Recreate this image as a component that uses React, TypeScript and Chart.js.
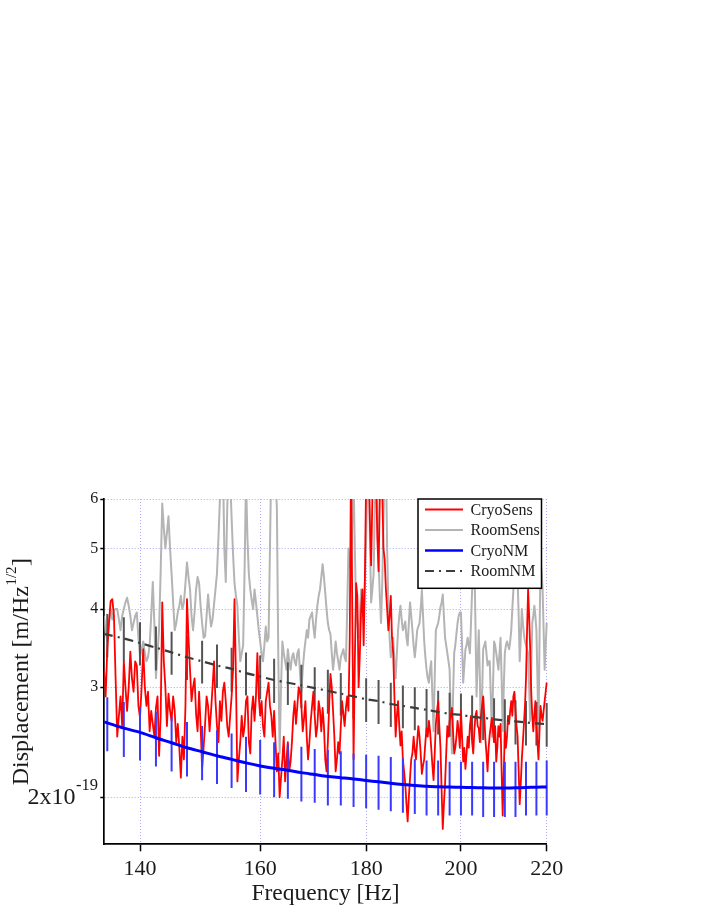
import React, { useEffect, useRef } from "react";
import { Chart, registerables } from "chart.js";

Chart.register(...registerables);

const FONT = "'Liberation Serif', 'Times New Roman', serif";
const TEXT_COLOR = "#1a1a1a";

// Values in units of 1e-19 m/Hz^1/2, sampled every 0.25 Hz from 134.5 Hz
const FREQ_START = 134.5;
const FREQ_STEP = 0.25;

const CRYO_SENS = [
  3.2, 2.9, 3.45, 3.8, 4.12, 4.15, 3.9, 3.1, 2.5, 2.7, 2.9, 2.6, 3.3, 3.0, 2.75, 3.0, 3.42, 3.1, 2.95, 3.3,
  3.25, 2.8, 2.68, 3.0, 3.45, 3.0, 2.8, 2.95, 2.55, 2.75, 2.62, 2.5, 2.78, 2.9, 2.33, 2.7, 4.1, 3.3, 3.0, 2.6,
  2.93, 2.75, 2.65, 2.9, 2.75, 2.45, 2.62, 2.4, 2.15, 2.5, 2.3, 2.8, 4.15, 3.6, 3.2, 2.85, 3.0, 3.1, 2.72, 2.55,
  2.95, 2.6, 2.22, 2.4, 2.62, 2.9, 2.8, 2.55, 2.75, 3.0, 3.3, 2.85, 2.6, 2.45, 2.85, 2.65, 2.95, 3.05, 2.85, 2.6,
  2.5, 2.7, 2.9, 3.2, 4.15, 3.1, 2.12, 2.3, 2.45, 2.7, 2.5, 2.6, 2.85, 2.9, 2.45, 2.35, 2.75, 2.9, 2.65, 2.9,
  3.4, 2.9, 2.7, 2.85, 2.6, 2.5, 2.85, 2.95, 3.05, 2.8, 2.7, 2.5, 2.75, 2.45, 2.2, 2.35, 2.0, 2.15, 2.3, 2.5,
  2.12, 2.3, 2.45, 2.2, 2.28, 2.45, 2.7, 2.85, 2.62, 2.8, 3.0, 2.95, 2.8, 2.55, 2.68, 2.85, 2.5, 2.3, 2.45, 2.65,
  2.8, 2.95, 2.7, 2.5, 2.6, 2.85, 2.75, 2.55, 2.78, 2.6, 2.3, 2.2, 2.45, 2.8, 3.15, 3.0, 2.75, 2.5, 2.2, 2.3,
  2.45, 2.35, 2.6, 2.85, 2.72, 2.6, 2.78, 2.9, 2.75, 3.6, 7.0, 4.0, 2.3, 3.3, 4.4, 4.2, 3.0, 3.4, 4.0, 4.3,
  3.5, 4.5, 6.5, 7.0, 7.0, 5.5, 4.7, 6.0, 7.0, 7.0, 6.5, 5.2, 4.6, 6.0, 7.0, 6.2, 5.0, 4.8, 4.3, 4.0,
  3.7, 3.9, 4.2, 3.6, 3.4, 2.9, 2.5, 2.7, 2.85, 2.6, 2.42, 2.55, 2.3, 2.2, 2.1, 1.95, 1.83, 2.0, 2.15, 2.3,
  2.35, 2.5, 2.38, 2.3, 2.45, 2.6, 2.5, 2.35, 2.18, 2.25, 2.3, 2.45, 2.58, 2.5, 2.65, 2.55, 2.4, 2.25, 2.13, 2.35,
  2.62, 2.75, 2.85, 2.6, 2.4, 2.05, 1.78, 1.95, 2.1, 2.35, 2.6, 2.5, 2.65, 2.7, 2.78, 2.55, 2.35, 2.4, 2.5, 2.65,
  2.55, 2.4, 2.75, 2.5, 2.28, 2.4, 2.22, 2.35, 2.5, 2.4, 2.6, 2.7, 2.45, 2.35, 2.55, 2.7, 2.75, 2.6, 2.58, 2.45,
  2.7, 2.8, 2.9, 2.7, 2.48, 2.35, 2.2, 2.4, 2.52, 2.6, 2.68, 2.55, 2.45, 2.6, 2.28, 2.4, 2.6, 2.5, 2.62, 2.2,
  1.87, 2.2, 2.55, 2.4, 2.5, 2.7, 2.62, 2.75, 2.85, 2.7, 2.9, 2.95, 2.75, 2.6, 2.5, 2.2, 1.95, 2.1, 2.3, 2.45,
  2.62, 2.8, 3.1, 3.7, 4.3, 3.9, 3.45, 2.95, 2.7, 2.55, 2.72, 2.85, 2.6, 2.45, 2.3, 2.55, 2.8, 2.7, 2.65, 2.75,
  2.85, 2.95, 3.05,
];

const ROOM_SENS = [
  3.9, 3.7, 3.55, 3.8, 4.0, 3.85, 3.98, 4.0, 4.0, 3.85, 3.7, 3.9, 4.0, 4.1, 4.17, 4.05, 3.9, 3.7, 3.8, 3.9,
  3.95, 3.6, 3.35, 3.45, 3.55, 3.4, 3.3, 3.35, 3.5, 3.9, 4.42, 3.8, 3.1, 3.4, 3.72, 4.6, 5.9, 5.4, 5.0, 5.3,
  5.63, 5.0, 4.55, 4.1, 3.7, 3.8, 3.95, 4.05, 4.2, 4.0, 4.1, 4.4, 4.75, 4.5, 4.3, 3.9, 3.7, 3.95, 4.3, 4.5,
  4.4, 4.05, 3.8, 3.6, 3.62, 3.9, 4.22, 3.95, 3.75, 3.85, 4.07, 4.3, 4.56, 5.2, 6.0, 7.0, 7.0, 5.0, 4.42, 5.8,
  7.0, 6.5, 5.6, 4.9, 4.4, 4.2, 4.05, 3.6, 3.3, 3.4, 3.5, 4.6, 6.5, 5.2, 4.55, 4.3, 4.13, 4.0, 4.3, 4.1,
  3.9, 3.7, 3.55, 3.4, 3.3, 3.5, 3.75, 3.55, 3.6, 5.0, 7.0, 7.0, 7.0, 6.5, 5.8, 3.4, 2.35, 3.0, 3.55, 3.4,
  3.3, 3.2, 3.45, 3.3, 3.2, 3.35, 3.4, 3.3, 3.25, 3.4, 3.45, 3.15, 2.95, 3.2, 3.4, 3.55, 3.7, 3.6, 3.85, 3.9,
  3.95, 3.75, 3.6, 3.85, 4.05, 4.2, 4.3, 4.5, 4.72, 4.5, 4.25, 4.0, 3.8, 3.7, 3.65, 3.4, 3.2, 3.35, 3.55, 3.4,
  3.3, 3.2, 3.35, 3.4, 3.45, 3.35, 3.3, 4.0, 5.0, 4.7, 4.6, 5.5, 6.5, 5.0, 4.0, 3.8, 3.6, 3.9, 4.3, 4.1,
  3.9, 4.4, 5.2, 6.5, 7.0, 5.2, 4.1, 4.3, 4.55, 5.8, 7.0, 6.0, 4.8, 4.2, 3.8, 4.4, 5.5, 7.0, 7.0, 5.0,
  4.03, 3.6, 3.35, 3.45, 3.6, 3.3, 3.1, 3.4, 3.7, 3.9, 4.05, 3.85, 3.7, 3.75, 3.82, 3.6, 3.5, 3.8, 4.1, 3.9,
  3.7, 3.5, 3.35, 3.5, 3.7, 3.75, 3.8, 4.0, 4.29, 3.9, 3.55, 3.35, 3.2, 3.1, 3.05, 3.2, 3.3, 2.9, 2.55, 3.1,
  3.7, 3.75, 3.8, 3.9, 4.03, 4.1, 4.22, 3.9, 3.6, 3.5, 3.4, 3.3, 3.2, 2.7, 2.35, 2.9, 3.4, 3.5, 3.65, 3.8,
  3.9, 3.95, 3.95, 3.5, 3.05, 3.25, 3.45, 3.5, 3.6, 3.5, 3.4, 3.8, 4.29, 4.6, 4.8, 3.8, 2.9, 3.3, 3.7, 3.1,
  2.45, 2.9, 3.45, 3.5, 3.55, 3.4, 3.25, 3.3, 3.3, 2.9, 2.5, 3.0, 3.55, 3.5, 3.4, 3.3, 3.2, 3.4, 3.6, 3.1,
  2.55, 3.0, 3.4, 3.5, 3.55, 3.5, 3.45, 3.55, 3.7, 4.0, 4.29, 4.6, 4.9, 4.7, 4.5, 3.9, 3.3, 3.6, 4.0, 3.8,
  3.65, 3.55, 3.5, 3.45, 3.4, 3.0, 2.65, 3.2, 3.8, 3.9, 4.05, 3.9, 3.7, 3.1, 2.5, 3.6, 4.8, 4.6, 4.3, 3.7,
  3.2, 3.5, 3.8,
];

const NM_FREQS = [
  134.5, 135, 137.5, 140, 142.5, 145, 147.5, 150, 152.5, 155, 157.5, 160,
  162.5, 165, 167.5, 170, 172.5, 175, 177.5, 180, 182.5, 185, 187.5, 190,
  192.5, 195, 197.5, 200, 202.5, 205, 207.5, 210, 212.5, 215, 217.5, 220,
];

const CRYO_NM = [
  2.64, 2.63, 2.58, 2.54, 2.49, 2.445, 2.4, 2.365, 2.33, 2.3, 2.27, 2.245,
  2.225, 2.21, 2.19, 2.175, 2.16, 2.15, 2.14, 2.128, 2.117, 2.106, 2.096, 2.088,
  2.083, 2.079, 2.077, 2.075, 2.073, 2.071, 2.07, 2.07, 2.071, 2.073, 2.076, 2.078,
];

const ROOM_NM = [
  3.65, 3.64, 3.59, 3.53, 3.47, 3.41, 3.35, 3.3, 3.25, 3.21, 3.16, 3.12,
  3.08, 3.05, 3.02, 2.99, 2.96, 2.93, 2.9, 2.87, 2.85, 2.82, 2.8, 2.78,
  2.76, 2.74, 2.72, 2.71, 2.69, 2.68, 2.665, 2.655, 2.645, 2.635, 2.625, 2.62,
];

const BAR_FREQS = [
  135, 137.5, 140, 142.5, 145, 147.5, 150, 152.5, 155, 157.5, 160, 162.5,
  165, 167.5, 170, 172.5, 175, 177.5, 180, 182.5, 185, 187.5, 190, 192.5,
  195, 197.5, 200, 202.5, 205, 207.5, 210, 212.5, 215, 217.5, 220,
];

const CRYO_NM_LOW = [
  2.37, 2.32, 2.29, 2.24, 2.2, 2.16, 2.13, 2.1, 2.07, 2.04, 2.02, 2.0,
  1.99, 1.97, 1.96, 1.94, 1.94, 1.93, 1.92, 1.91, 1.9, 1.89, 1.88, 1.87,
  1.87, 1.87, 1.87, 1.87, 1.86, 1.86, 1.86, 1.86, 1.87, 1.87, 1.87,
];
const CRYO_NM_HIGH = [
  2.89, 2.84, 2.79, 2.74, 2.69, 2.64, 2.6, 2.56, 2.53, 2.5, 2.47, 2.45,
  2.43, 2.41, 2.39, 2.38, 2.37, 2.35, 2.34, 2.33, 2.32, 2.31, 2.3, 2.29,
  2.29, 2.28, 2.28, 2.28, 2.28, 2.28, 2.28, 2.28, 2.28, 2.28, 2.29,
];
const ROOM_NM_LOW = [
  3.35, 3.3, 3.25, 3.19, 3.14, 3.08, 3.04, 2.99, 2.95, 2.91, 2.87, 2.83,
  2.81, 2.78, 2.75, 2.72, 2.7, 2.67, 2.64, 2.62, 2.59, 2.58, 2.56, 2.54,
  2.52, 2.5, 2.49, 2.47, 2.47, 2.45, 2.44, 2.43, 2.42, 2.42, 2.41,
];
const ROOM_NM_HIGH = [
  3.93, 3.88, 3.81, 3.75, 3.68, 3.62, 3.56, 3.51, 3.47, 3.41, 3.37, 3.33,
  3.29, 3.26, 3.23, 3.2, 3.16, 3.13, 3.1, 3.08, 3.05, 3.02, 3.0, 2.98,
  2.96, 2.94, 2.93, 2.91, 2.89, 2.88, 2.87, 2.86, 2.85, 2.84, 2.83,
];

const X_TICKS = [140, 160, 180, 200, 220];
const Y_TICKS = [2, 3, 4, 5, 6];
const X_MIN = 134.55;
const X_MAX = 220;
const Y_MIN = 1.682;
const Y_MAX = 6;

const SERIES_STYLE = {
  cryoSens: { label: "CryoSens", color: "#ff0000", width: 1.8, dash: [] as number[] },
  roomSens: { label: "RoomSens", color: "#b4b4b4", width: 2, dash: [] as number[] },
  cryoNM: { label: "CryoNM", color: "#0000ff", width: 3, dash: [] as number[] },
  roomNM: { label: "RoomNM", color: "#3c3c3c", width: 2.2, dash: [9, 5, 2, 5] },
};

const SENS_FREQS = CRYO_SENS.map((_, i) => FREQ_START + i * FREQ_STEP);

const toXY = (xs: number[], ys: number[]) => xs.map((x, i) => ({ x, y: ys[i] }));
const toBars = (xs: number[], lo: number[], hi: number[]) =>
  xs.flatMap((x, i) => [
    { x, y: lo[i] },
    { x, y: hi[i] },
    { x, y: null as any },
  ]);

const CLIP = { left: 0, top: 0, right: 2, bottom: 0 };

const overlayPlugin = {
  id: "overlay",
  afterDraw(chart: any) {
    const ctx = chart.ctx as CanvasRenderingContext2D;
    const area = chart.chartArea;
    const ys = chart.scales.y;
    ctx.save();
    ctx.fillStyle = TEXT_COLOR;

    // y tick label 2x10^-19
    const y2 = ys.getPixelForValue(2);
    const rightX = 98;
    ctx.textAlign = "right";
    ctx.textBaseline = "alphabetic";
    ctx.font = `16.5px ${FONT}`;
    const sup = "-19";
    const supW = ctx.measureText(sup).width;
    ctx.fillText(sup, rightX, y2 - 7);
    ctx.font = `24px ${FONT}`;
    ctx.fillText("2x10", rightX - supW - 0.5, y2 + 6.5);

    // x title
    ctx.textAlign = "center";
    ctx.font = `23.5px ${FONT}`;
    ctx.fillText("Frequency [Hz]", (area.left + area.right) / 2, 900);

    // y title (rotated)
    ctx.save();
    ctx.translate(28, (area.top + area.bottom) / 2);
    ctx.rotate(-Math.PI / 2);
    ctx.textAlign = "left";
    const t1 = "Displacement [m/Hz";
    const t2 = "1/2";
    const t3 = "]";
    ctx.font = `24px ${FONT}`;
    const w1 = ctx.measureText(t1).width;
    const w3 = ctx.measureText(t3).width;
    ctx.font = `15px ${FONT}`;
    const w2 = ctx.measureText(t2).width;
    const total = w1 + w2 + w3 + 1;
    const x0 = -total / 2;
    ctx.font = `24px ${FONT}`;
    ctx.fillText(t1, x0, 0);
    ctx.font = `15px ${FONT}`;
    ctx.fillText(t2, x0 + w1 + 0.5, -12);
    ctx.font = `24px ${FONT}`;
    ctx.fillText(t3, x0 + w1 + w2 + 1, 0);
    ctx.restore();

    // legend box
    const lx = 418, ly = 499, lw = 123.5, lh = 89.3;
    ctx.fillStyle = "#ffffff";
    ctx.fillRect(lx, ly, lw, lh);
    ctx.strokeStyle = "#000000";
    ctx.lineWidth = 1.5;
    ctx.strokeRect(lx, ly, lw, lh);
    const rows = [SERIES_STYLE.cryoSens, SERIES_STYLE.roomSens, SERIES_STYLE.cryoNM, SERIES_STYLE.roomNM];
    const rowY = [509.5, 530, 550.5, 571];
    ctx.font = `16px ${FONT}`;
    ctx.textAlign = "left";
    ctx.textBaseline = "middle";
    rows.forEach((r, i) => {
      ctx.save();
      ctx.strokeStyle = r.color;
      ctx.lineWidth = r === SERIES_STYLE.cryoNM ? 2.5 : 2;
      ctx.setLineDash(r.dash);
      ctx.beginPath();
      ctx.moveTo(425, rowY[i]);
      ctx.lineTo(463, rowY[i]);
      ctx.stroke();
      ctx.restore();
      ctx.fillStyle = TEXT_COLOR;
      ctx.fillText(r.label, 470.5, rowY[i] + 1);
    });
    ctx.restore();
  },
};

export default function App() {
  const canvasRef = useRef<HTMLCanvasElement | null>(null);

  useEffect(() => {
    const canvas = canvasRef.current;
    if (!canvas) return;
    const chart = new Chart(canvas, {
      type: "line",
      data: {
        datasets: [
          {
            label: SERIES_STYLE.roomSens.label,
            data: toXY(SENS_FREQS, ROOM_SENS),
            borderColor: SERIES_STYLE.roomSens.color,
            borderWidth: SERIES_STYLE.roomSens.width,
            pointRadius: 0,
            tension: 0,
            borderJoinStyle: "round",
            clip: CLIP,
            order: 6,
          },
          {
            label: "RoomNM err",
            data: toBars(BAR_FREQS, ROOM_NM_LOW, ROOM_NM_HIGH),
            borderColor: "#555555",
            borderWidth: 2,
            pointRadius: 0,
            spanGaps: false,
            borderCapStyle: "butt",
            clip: CLIP,
            order: 5,
          },
          {
            label: SERIES_STYLE.cryoSens.label,
            data: toXY(SENS_FREQS, CRYO_SENS),
            borderColor: SERIES_STYLE.cryoSens.color,
            borderWidth: SERIES_STYLE.cryoSens.width,
            pointRadius: 0,
            tension: 0,
            borderJoinStyle: "round",
            clip: CLIP,
            order: 4,
          },
          {
            label: SERIES_STYLE.roomNM.label,
            data: toXY(NM_FREQS, ROOM_NM),
            borderColor: SERIES_STYLE.roomNM.color,
            borderWidth: SERIES_STYLE.roomNM.width,
            borderDash: SERIES_STYLE.roomNM.dash,
            pointRadius: 0,
            tension: 0.3,
            clip: CLIP,
            order: 3,
          },
          {
            label: "CryoNM err",
            data: toBars(BAR_FREQS, CRYO_NM_LOW, CRYO_NM_HIGH),
            borderColor: "#3a3aff",
            borderWidth: 2,
            pointRadius: 0,
            spanGaps: false,
            borderCapStyle: "butt",
            clip: CLIP,
            order: 2,
          },
          {
            label: SERIES_STYLE.cryoNM.label,
            data: toXY(NM_FREQS, CRYO_NM),
            borderColor: SERIES_STYLE.cryoNM.color,
            borderWidth: SERIES_STYLE.cryoNM.width,
            pointRadius: 0,
            tension: 0.3,
            clip: CLIP,
            order: 1,
          },
        ] as any,
      },
      options: {
        responsive: false,
        animation: false,
        devicePixelRatio: 1,
        events: [],
        layout: { padding: { left: 0, top: 499, right: 706 - 546.7, bottom: 913 - 844.3 - 60 } },
        plugins: { legend: { display: false }, tooltip: { enabled: false } },
        scales: {
          x: {
            type: "logarithmic",
            min: X_MIN,
            max: X_MAX,
            bounds: "data",
            offset: false,
            afterBuildTicks: (s: any) => {
              s.ticks = X_TICKS.map((v) => ({ value: v }));
            },
            afterFit: (s: any) => {
              s.height = 60;
            },
            ticks: {
              callback: (v: any) => String(v),
              font: { family: FONT, size: 22 },
              color: TEXT_COLOR,
              padding: 5,
              maxRotation: 0,
              autoSkip: false,
            },
            grid: {
              color: "#a8a8f0",
              lineWidth: 1,
              drawTicks: true,
              tickLength: 7,
              tickColor: "#000000",
              tickWidth: 1.5,
              offset: false,
            },
            border: { display: true, color: "#000000", width: 1.7, dash: [1, 2] },
          },
          y: {
            type: "logarithmic",
            min: Y_MIN,
            max: Y_MAX,
            bounds: "data",
            afterBuildTicks: (s: any) => {
              s.ticks = Y_TICKS.map((v) => ({ value: v }));
            },
            afterFit: (s: any) => {
              s.width = 104.3;
            },
            ticks: {
              callback: (v: any) => (v === 2 ? "" : String(v)),
              font: { family: FONT, size: 16 },
              color: TEXT_COLOR,
              padding: 2,
              autoSkip: false,
            },
            grid: {
              color: "#a8a8f0",
              lineWidth: 1,
              drawTicks: true,
              tickLength: 4,
              tickColor: "#000000",
              tickWidth: 1.5,
            },
            border: { display: true, color: "#000000", width: 1.7, dash: [1, 2] },
          },
        },
      } as any,
      plugins: [overlayPlugin],
    });
    return () => chart.destroy();
  }, []);

  return (
    <div style={{ position: "absolute", left: 0, top: 0, width: 706, height: 913, background: "#ffffff" }}>
      <canvas ref={canvasRef} width={706} height={913} style={{ width: 706, height: 913, display: "block" }} />
    </div>
  );
}
